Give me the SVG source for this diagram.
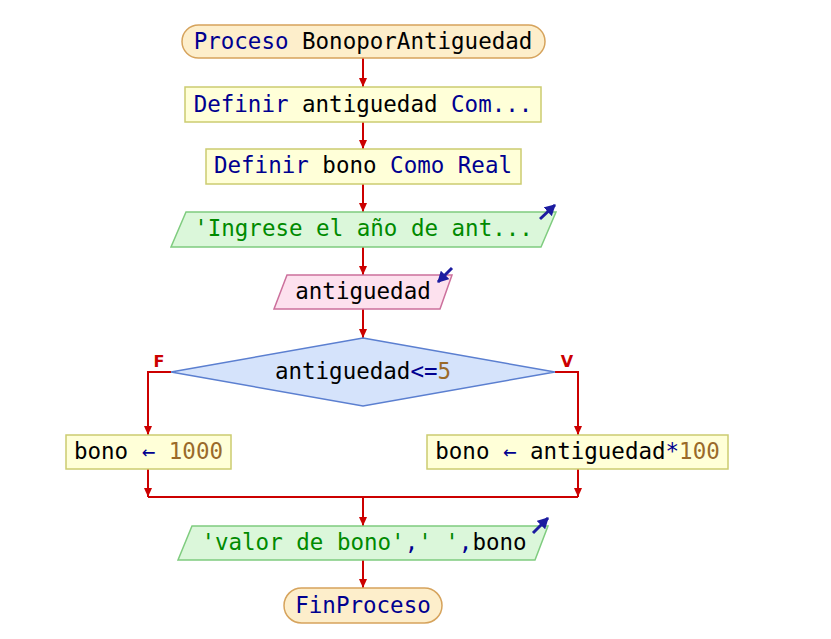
<svg xmlns="http://www.w3.org/2000/svg" width="831" height="639" viewBox="0 0 831 639">
<style>
text{font-family:"DejaVu Sans Mono","Liberation Mono",monospace;font-size:22.5px;fill:#000;}
.t{text-anchor:middle;}
.kw{fill:#000090;}
.str{fill:#008a00;}
.num{fill:#9a6a2a;}
.op{fill:#000090;}
.term{fill:#fdeecb;stroke:#d6a35c;stroke-width:1.5;}
.proc{fill:#ffffd8;stroke:#cccc70;stroke-width:1.5;}
.out{fill:#dbf7da;stroke:#7fcc7f;stroke-width:1.5;}
.in{fill:#fde1ee;stroke:#cc709c;stroke-width:1.5;}
.dec{fill:#d5e3fb;stroke:#5b7fd0;stroke-width:1.5;}
.con{fill:none;stroke:#cc0000;stroke-width:2;}
.icon{fill:none;stroke:#1c1ca0;stroke-width:3;}
.lbl{font-family:"DejaVu Sans","Liberation Sans",sans-serif;font-size:16px;font-weight:bold;fill:#cc0000;text-anchor:middle;}
</style>
<defs>
<marker id="ah" markerUnits="userSpaceOnUse" markerWidth="10" markerHeight="8" refX="9" refY="4" orient="auto">
<path d="M0,0 L9,4 L0,8 Z" fill="#cc0000"/>
</marker>
<marker id="ih" markerUnits="userSpaceOnUse" markerWidth="12" markerHeight="12" refX="10" refY="6" orient="auto">
<path d="M0,0 L11,6 L0,12 Z" fill="#1c1ca0"/>
</marker>
</defs>
<g id="connectors">
<line class="con" x1="363" y1="58" x2="363" y2="87" marker-end="url(#ah)"/>
<line class="con" x1="363" y1="122" x2="363" y2="149" marker-end="url(#ah)"/>
<line class="con" x1="363" y1="184" x2="363" y2="212" marker-end="url(#ah)"/>
<line class="con" x1="363" y1="247" x2="363" y2="275" marker-end="url(#ah)"/>
<line class="con" x1="363" y1="309" x2="363" y2="338" marker-end="url(#ah)"/>
<polyline class="con" points="171,372 148,372 148,435" marker-end="url(#ah)"/>
<polyline class="con" points="555,372 578,372 578,435" marker-end="url(#ah)"/>
<line class="con" x1="148" y1="469" x2="148" y2="497" marker-end="url(#ah)"/>
<line class="con" x1="578" y1="469" x2="578" y2="497" marker-end="url(#ah)"/>
<line class="con" x1="148" y1="497" x2="578" y2="497"/>
<line class="con" x1="363" y1="497" x2="363" y2="526" marker-end="url(#ah)"/>
<line class="con" x1="363" y1="560" x2="363" y2="588" marker-end="url(#ah)"/>
<text class="lbl" x="159" y="367">F</text>
<text class="lbl" x="567" y="367">V</text>
</g>
<g id="start">
<rect class="term" x="182" y="25" width="363" height="33" rx="16.5"/>
<text class="t" x="363" y="49"><tspan class="kw">Proceso</tspan> BonoporAntiguedad</text>
</g>
<g id="def1">
<rect class="proc" x="185" y="87" width="356" height="35"/>
<text class="t" x="363" y="112"><tspan class="kw">Definir</tspan> antiguedad <tspan class="kw">Com...</tspan></text>
</g>
<g id="def2">
<rect class="proc" x="206" y="149" width="315" height="35"/>
<text class="t" x="363" y="173"><tspan class="kw">Definir</tspan> bono <tspan class="kw">Como Real</tspan></text>
</g>
<g id="out1">
<polygon class="out" points="186,212 556,212 541,247 171,247"/>
<text class="t str" x="363.5" y="236">'Ingrese el año de ant...</text>
<line class="icon" x1="540" y1="219" x2="555" y2="205" marker-end="url(#ih)"/>
</g>
<g id="in1">
<polygon class="in" points="287,275 452,275 440,309 274,309"/>
<text class="t" x="363" y="299">antiguedad</text>
<line class="icon" x1="452" y1="268" x2="438" y2="282" marker-end="url(#ih)"/>
</g>
<g id="cond">
<polygon class="dec" points="363,338 555,372 363,406 171,372"/>
<text class="t" x="363" y="379">antiguedad<tspan class="op">&lt;=</tspan><tspan class="num">5</tspan></text>
</g>
<g id="assignF">
<rect class="proc" x="66" y="435" width="165" height="34"/>
<text class="t" x="148.5" y="459">bono <tspan class="op">←</tspan> <tspan class="num">1000</tspan></text>
</g>
<g id="assignV">
<rect class="proc" x="427" y="435" width="301" height="34"/>
<text class="t" x="577.5" y="459">bono <tspan class="op">←</tspan> antiguedad<tspan class="op">*</tspan><tspan class="num">100</tspan></text>
</g>
<g id="out2">
<polygon class="out" points="192,526 548,526 535,560 178,560"/>
<text class="t" x="364" y="550"><tspan class="str">'valor de bono'</tspan><tspan class="op">,</tspan><tspan class="str">' '</tspan><tspan class="op">,</tspan>bono</text>
<line class="icon" x1="533" y1="533" x2="548" y2="518" marker-end="url(#ih)"/>
</g>
<g id="end">
<rect class="term" x="284" y="588" width="158" height="35" rx="17.5"/>
<text class="t kw" x="363" y="613">FinProceso</text>
</g>
</svg>
